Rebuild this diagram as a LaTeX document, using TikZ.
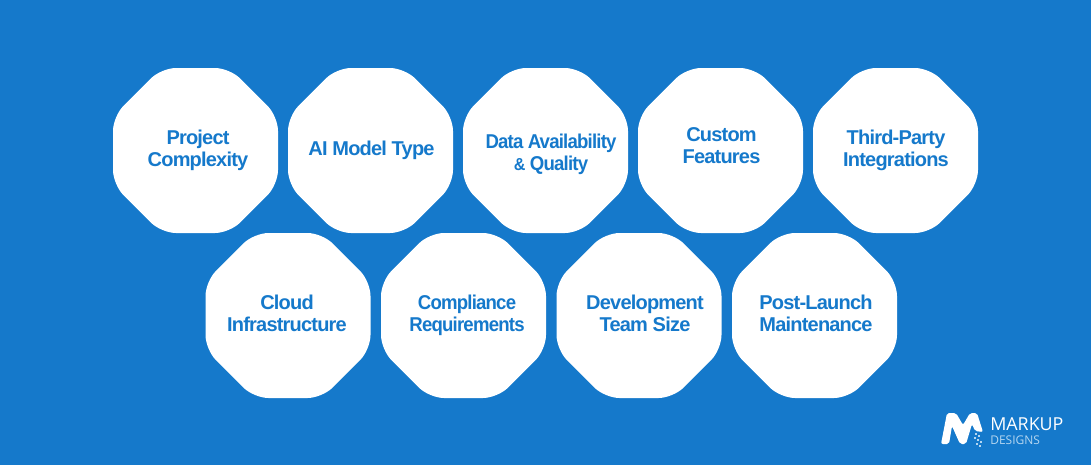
\documentclass[tikz,border=0pt]{standalone}
\usepackage{fontspec}
\setmainfont{Liberation Sans}
\newfontfamily\labelfont[LetterSpace=-4]{Liberation Sans Bold}
\newfontfamily\tightfont[LetterSpace=-4,FakeStretch=0.93]{Liberation Sans Bold}
\newfontfamily\logofont{Open Sans}
\usepackage{xcolor}
\usetikzlibrary{shapes.geometric}
\definecolor{bgblue}{HTML}{1579CB}
\definecolor{logoblue}{HTML}{B5D6F0}
\tikzset{
  octabox/.style={regular polygon, regular polygon sides=8, minimum size=133.95pt,
    inner sep=0pt, fill=white, rounded corners=11pt},
  factor/.style={align=center, text=bgblue, font=\labelfont\fontsize{15}{16.5}\selectfont, inner sep=0pt},
  tightfactor/.style={factor, font=\tightfont\fontsize{15}{16.5}\selectfont},
  logotext/.style={anchor=west, inner sep=0pt, font=\logofont}
}
\begin{document}
\begin{tikzpicture}[x=0.75pt, y=-0.75pt]
  \fill[bgblue] (0,0) rectangle (1091,465);
  % octagons
  \foreach \name/\x/\y in {pc/195.5/150.5, ai/370.5/150.5, da/545.5/150.5, cf/720.5/150.5, tp/895.5/150.5,
      ci/288/315.5, cr/463.5/315.5, dt/639/315.5, pl/814.5/315.5}
    \node[octabox] (\name) at (\x,\y) {};
  % labels
  \node[factor] (pclabel) at (198,150.5) {Project\\Complexity};
  \node[factor] (ailabel) at (371.5,150) {AI Model Type};
  \node[tightfactor] (dalabel) at (551,154.5) {Data Availability\\{\fontsize{13}{16.5}\selectfont\&} Quality};
  \node[factor] (cflabel) at (721.5,145.5) {Custom\\Features};
  \node[factor] (tplabel) at (896,150.5) {Third-Party\\Integrations};
  \node[factor] (cilabel) at (287,313.5) {Cloud\\Infrastructure};
  \node[tightfactor] (crlabel) at (467,315) {Compliance\\Requirements};
  \node[factor] (dtlabel) at (645,313.5) {Development\\Team Size};
  \node[factor] (pllabel) at (816,313.5) {Post-Launch\\Maintenance};
  % logo
  \fill[white, rounded corners=1.5pt] (941,444) -- (947,413) -- (956,413) -- (963,425) -- (970,413) -- (977,413)
    -- (983,432) -- (975,431) -- (972,424) -- (966,444) -- (960,444) -- (952,426) -- (949,444) -- cycle;
  \foreach \x/\y in {975/433,978/435,974/437,977/439,980/441,976/443,979/445}
    \fill[logoblue] (\x,\y) rectangle +(2.2,2.2);
  \node[logotext, text=white] (markup) at (990,424.5) {\fontsize{13.4}{14}\selectfont MARKUP};
  \node[logotext, text=logoblue] (designs) at (990,440) {\fontsize{9}{10}\selectfont DESIGNS};
\end{tikzpicture}
\end{document}
